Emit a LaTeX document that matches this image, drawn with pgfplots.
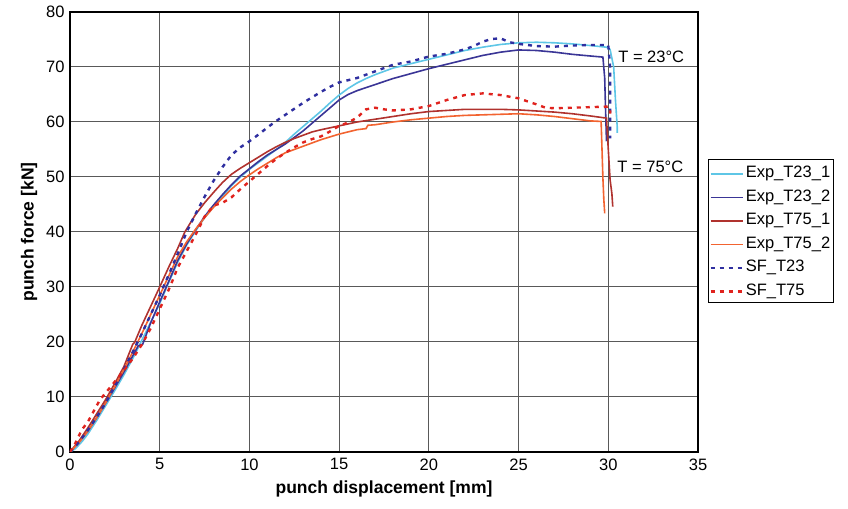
\documentclass[border=0pt]{standalone}
\usepackage{fontspec}
\setmainfont{Liberation Sans}
\usepackage{pgfplots}
\pgfplotsset{compat=1.18}
\definecolor{cLB}{HTML}{5EC6E6}
\definecolor{cDB}{HTML}{3A3596}
\definecolor{cDR}{HTML}{B0322E}
\definecolor{cOR}{HTML}{F26330}
\definecolor{cSB}{HTML}{2F2FA0}
\definecolor{cSR}{HTML}{E0231E}
\begin{document}
\begin{tikzpicture}
\begin{axis}[
  scale only axis, width=628pt, height=440pt,
  xmin=0, xmax=35, ymin=0, ymax=80,
  xtick={0,5,...,35}, ytick={0,10,...,80},
  major tick length=0pt,
  grid=major, grid style={black!65, line width=1pt},
  axis line style={black, line width=1.4pt},
  /pgf/number format/assume math mode=true,
  tick label style={font=\fontsize{16.5}{18}\selectfont},
  xticklabel style={yshift=-3pt},
  yticklabel style={xshift=-2pt},
  xlabel={\textbf{punch displacement [mm]}},
  ylabel={\textbf{punch force [kN]}},
  label style={font=\fontsize{17.5}{20}\selectfont},
  xlabel style={yshift=-4pt},
  ylabel style={yshift=2pt},
  legend cell align=left,
  legend style={at={(1.0159,0.666)}, anchor=north west, draw=black, line width=0.8pt,
    font=\fontsize{16.5}{18}\selectfont, inner sep=1pt, row sep=0pt,
    nodes={inner ysep=3.9pt, text height=13.5pt, text depth=2.2pt}},
  legend image code/.code={\draw[#1] (0pt,-2pt) -- (32pt,-2pt);},
]
\addplot[cLB, line width=1.6pt] coordinates {
(0,0) (0.3,0.6) (0.7,2) (1,3.3) (1.5,5.8) (2,8.5) (2.5,11.2) (3,14) (3.5,17) (4,20.3) (4.5,23.6) (5,27) (5.5,30.8) (6,34.5) (6.5,37.6) (7,40.2) (7.5,42.6) (8,44.6) (8.5,46.5) (9,48.4) (9.5,50) (10,51.4) (10.5,52.6) (11,53.8) (11.5,55) (12,56.3) (12.5,57.8) (13,59.2) (13.5,60.6) (14,62) (14.5,63.5) (15,64.9) (15.5,66.1) (16,67.1) (16.5,67.9) (17,68.6) (18,69.8) (19,70.6) (20,71.4) (21,72.2) (22,73) (23,73.6) (24,74.1) (25,74.4) (26,74.5) (27,74.4) (28,74.2) (29,73.9) (29.9,73.6) (30.1,73.2) (30.3,70) (30.4,64) (30.5,59) (30.5,58)};
\addlegendentry{Exp\_T23\_1}
\addplot[cDB, line width=1.6pt] coordinates {
(0,0) (0.5,1.8) (1,3.8) (1.5,6.3) (2,9) (2.5,11.7) (3,14.5) (3.5,17.5) (3.8,19.3) (4.05,19.6) (4.5,23.5) (5,27.3) (5.5,31) (6,34.8) (6.5,37.8) (7,40.4) (7.5,42.8) (8,44.9) (8.5,46.8) (9,48.6) (9.5,50.2) (10,51.5) (10.5,52.8) (11,54) (11.5,55) (12,56) (12.5,57.2) (13,58.4) (13.5,59.8) (14,61.2) (14.5,62.6) (15,64) (15.5,65) (16,65.7) (17,66.8) (18,67.9) (19,68.8) (20,69.7) (21,70.5) (22,71.3) (23,72.1) (24,72.7) (25,73.1) (26,73) (27,72.7) (28,72.3) (29,72) (29.7,71.8) (29.8,68) (29.85,62) (29.9,56.5)};
\addlegendentry{Exp\_T23\_2}
\addplot[cDR, line width=1.6pt] coordinates {
(0,0) (0.5,2) (1,4.4) (1.5,7) (2,9.6) (2.5,12.5) (3,15.5) (3.5,19.6) (3.6,19.9) (4,23) (4.5,26.5) (5,30) (5.5,33.6) (6,37) (6.4,40) (7,43.2) (7.5,45.3) (8,47.2) (8.5,49) (9,50.5) (9.5,51.6) (10,52.6) (10.5,53.6) (11,54.6) (11.5,55.5) (12,56.3) (12.5,57) (13,57.6) (13.5,58.2) (14,58.6) (15,59.3) (16,60) (17,60.5) (18,61) (19,61.5) (20,61.9) (21,62.1) (22,62.3) (23,62.3) (24,62.3) (25,62.2) (26,62) (27,61.8) (28,61.5) (29,61.1) (29.9,60.7) (30,55) (30.1,49.5) (30.2,47) (30.25,44.6)};
\addlegendentry{Exp\_T75\_1}
\addplot[cOR, line width=1.6pt] coordinates {
(0,0) (0.5,1.7) (1,3.8) (1.5,6.3) (2,9) (2.5,11.9) (3,15) (3.5,18.2) (4,21.5) (4.5,25) (5,28.5) (5.5,32) (6,35.5) (6.5,38.2) (7,40.5) (7.5,42.6) (8,44.5) (8.5,46.2) (9,47.8) (9.5,49.2) (10,50.4) (10.5,51.5) (11,52.5) (11.5,53.5) (12,54.4) (12.5,55) (13,55.6) (13.5,56.2) (14,56.8) (15,57.8) (16,58.6) (16.5,58.8) (16.6,59.4) (17,59.5) (18,60) (19,60.4) (20,60.7) (21,61) (22,61.2) (23,61.3) (24,61.4) (25,61.5) (26,61.3) (27,61) (28,60.6) (29,60.2) (29.6,60.1) (29.65,55) (29.7,49.8) (29.75,46) (29.8,43.4)};
\addlegendentry{Exp\_T75\_2}
\addplot[cSB, line width=2.4pt, dash pattern=on 4pt off 5pt] coordinates {
(0,0) (0.5,1.8) (1,4) (1.5,6.4) (2,9) (2.5,12) (3,15) (3.5,18.2) (4,21.5) (4.5,25) (5,28.5) (5.5,32.2) (6,36) (6.5,40) (7,43.3) (7.5,46.4) (8,49.3) (8.5,51.8) (9,54) (9.5,55.4) (10,56.5) (10.5,57.7) (11,59) (11.5,60.2) (12,61.3) (12.5,62.4) (13,63.5) (13.5,64.5) (14,65.5) (14.5,66.4) (15,67.2) (16,68) (17,69.2) (18,70.4) (19,71) (20,71.9) (21,72.4) (22,73.2) (22.5,73.8) (23,74.6) (23.5,75.1) (24,75.2) (24.5,74.5) (25,74.2) (26,73.8) (27,73.7) (28,73.9) (29,74) (30,74) (30.1,70) (30.1,57)};
\addlegendentry{SF\_T23}
\addplot[cSR, line width=2.4pt, dash pattern=on 4pt off 5pt] coordinates {
(0,0) (0.3,1.6) (0.65,4) (1,5.5) (1.67,9.5) (2,10.8) (2.5,12.8) (3,14.8) (3.5,17) (4,19.5) (4.5,22.5) (5,26) (5.57,30) (6,33.5) (6.5,36.5) (7,39.5) (7.5,42.8) (8,44.8) (8.5,45.3) (9,46.3) (9.5,47.8) (10,49.2) (10.5,50.6) (11,52) (11.5,53.3) (12,54.4) (12.5,55.4) (13,56.3) (13.5,56.9) (14,57.4) (14.5,58.3) (15,59.3) (15.5,59.9) (16,60.8) (16.5,62.3) (17,62.6) (17.5,62.3) (18,62.1) (19,62.3) (20,62.9) (21,64) (22,64.9) (23,65.2) (24,64.9) (25,64.3) (26,63.2) (26.5,62.6) (27,62.5) (28,62.6) (29,62.7) (30,62.8) (30.1,62.5) (30.1,61.5)};
\addlegendentry{SF\_T75}
\node[anchor=west, font=\fontsize{16.5}{18}\selectfont, inner sep=0pt] at (axis cs:30.55,71.8) {T = 23°C};
\node[anchor=west, font=\fontsize{16.5}{18}\selectfont, inner sep=0pt] at (axis cs:30.5,51.8) {T = 75°C};
\end{axis}
\pgfresetboundingbox
\path ([shift={(-70pt,-57pt)}]current axis.south west) rectangle ([shift={(150pt,12pt)}]current axis.north east);
\end{tikzpicture}
\end{document}
